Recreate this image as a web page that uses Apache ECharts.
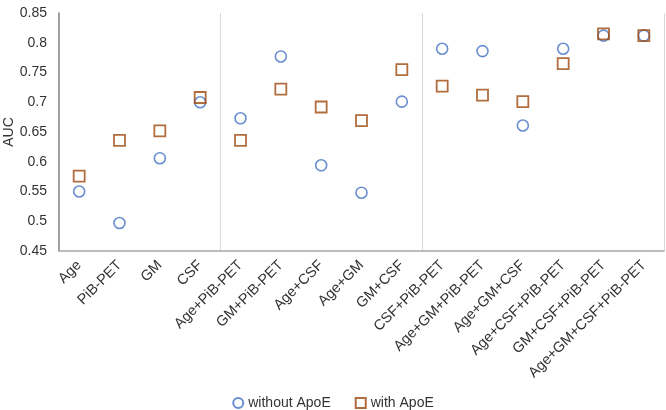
<!DOCTYPE html>
<html><head><meta charset="utf-8">
<script src="https://cdn.jsdelivr.net/npm/echarts@6/dist/echarts.min.js"></script>
<style>html,body{margin:0;padding:0;background:#fff}#c{width:666px;height:410px}</style>
</head><body><div id="c"></div>
<script>
const categories = ["Age","PiB-PET","GM","CSF","Age+PiB-PET","GM+PiB-PET","Age+CSF","Age+GM","GM+CSF","CSF+PiB-PET","Age+GM+PiB-PET","Age+GM+CSF","Age+CSF+PiB-PET","GM+CSF+PiB-PET","Age+GM+CSF+PiB-PET"];
const withoutApoE = [0.550,0.497,0.606,0.700,0.673,0.777,0.594,0.548,0.701,0.790,0.786,0.661,0.790,0.812,0.812];
const withApoE    = [0.576,0.636,0.652,0.708,0.636,0.722,0.692,0.669,0.755,0.727,0.712,0.701,0.765,0.815,0.812];
const separatorsBefore = [4, 9];

const chart = echarts.init(document.getElementById('c'));
const font = 'Liberation Sans, Arial, sans-serif';
chart.setOption({
  animation: false,
  grid: {left: 59, right: 2, top: 13, bottom: 159, outerBoundsMode: 'none', containLabel: false},
  legend: {
    top: 391, left: 'center', itemWidth: 10, itemHeight: 10, itemGap: 24,
    textStyle: {fontFamily: font, fontSize: 14, color: '#333'},
    data: [
      {name: 'without ApoE', icon: 'circle'},
      {name: 'with ApoE', icon: 'rect'}
    ]
  },
  xAxis: {
    type: 'category', data: categories, boundaryGap: true,
    axisLine: {lineStyle: {color: '#a6a6a6', width: 1.5}},
    axisTick: {show: false},
    axisLabel: {rotate: 45, interval: 0, fontFamily: font, fontSize: 14.5, color: '#333', margin: 12},
    splitLine: {show: true, interval: function(i){ return separatorsBefore.indexOf(i) >= 0; }, lineStyle: {color: '#d9d9d9', width: 1}}
  },
  yAxis: {
    type: 'value', min: 0.45, max: 0.85, interval: 0.05,
    name: 'AUC', nameLocation: 'middle', nameGap: 43, nameRotate: 90, nameMoveOverlap: false,
    nameTextStyle: {fontFamily: font, fontSize: 14, color: '#333'},
    axisLine: {show: true, lineStyle: {color: '#7f7f7f', width: 1.5}},
    axisTick: {show: false},
    splitLine: {show: false},
    axisLabel: {fontFamily: font, fontSize: 14, color: '#333', margin: 12,
      formatter: function(v){ return String(parseFloat(v.toFixed(2))); }}
  },
  series: [
    {name: 'without ApoE', type: 'scatter', symbol: 'circle', symbolSize: 11, data: withoutApoE,
     itemStyle: {color: 'rgba(255,255,255,0)', borderColor: '#4472C4', borderWidth: 1.6}},
    {name: 'with ApoE', type: 'scatter', symbol: 'rect', symbolSize: 11, data: withApoE,
     itemStyle: {color: 'rgba(255,255,255,0)', borderColor: '#9E480E', borderWidth: 1.8}}
  ]
});
</script></body></html>
